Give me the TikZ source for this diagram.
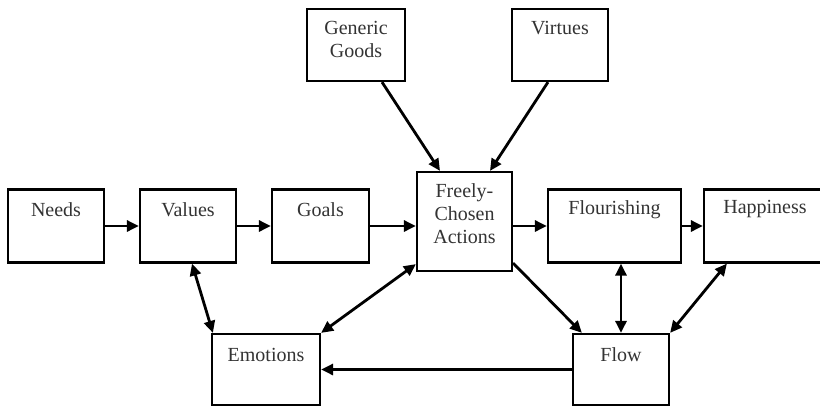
\documentclass[tikz,border=0pt]{standalone}
\usepackage{fontspec}
\setmainfont{Liberation Serif}
\usetikzlibrary{arrows.meta,calc}
\begin{document}
\begin{tikzpicture}[x=1pt,y=1pt,
  box/.style={draw, line width=2.2pt, rectangle, inner sep=0pt},
  lbl/.style={font=\fontsize{20}{23}\selectfont, align=center, text=black!80, inner sep=0pt},
  conn/.style={line width=2.8pt, -{Triangle[length=12pt,width=11pt]}},
  bconn/.style={line width=2.8pt, {Triangle[length=12pt,width=11pt]}-{Triangle[length=12pt,width=11pt]}}]
\useasboundingbox (0,0) rectangle (820,-407);
% boxes
\node[box, minimum width=96pt, minimum height=73pt] (needs) at (56,-226) {};
\node[box, minimum width=96pt, minimum height=73pt] (values) at (188,-226) {};
\node[box, minimum width=97pt, minimum height=73pt] (goals) at (320.5,-226) {};
\node[box, minimum width=95pt, minimum height=99pt] (freely) at (464.5,-221.5) {};
\node[box, minimum width=133pt, minimum height=73pt] (flour) at (614.5,-226) {};
\node[box, minimum width=122pt, minimum height=73pt] (happy) at (765,-226) {};
\node[box, minimum width=98pt, minimum height=72pt] (generic) at (356,-45) {};
\node[box, minimum width=96pt, minimum height=72pt] (virtues) at (560,-45) {};
\node[box, minimum width=108pt, minimum height=71pt] (emotions) at (266,-369.5) {};
\node[box, minimum width=96pt, minimum height=71pt] (flow) at (621,-369.5) {};
% labels
\node[lbl] (tneeds) at ($(needs.north)+(0,-21)$) {Needs};
\node[lbl] (tvalues) at ($(values.north)+(0,-21)$) {Values};
\node[lbl] (tgoals) at ($(goals.north)+(0,-21)$) {Goals};
\node[lbl] (tfreely) at ($(freely.north)+(0,-43)$) {Freely-\\Chosen\\Actions};
\node[lbl] (tflour) at ($(flour.north)+(0,-21)$) {Flourishing};
\node[lbl] (thappy) at ($(happy.north)+(0,-21)$) {Happiness};
\node[lbl] (tgeneric) at ($(generic.north)+(0,-32)$) {Generic\\Goods};
\node[lbl] (tvirtues) at ($(virtues.north)+(0,-20)$) {Virtues};
\node[lbl] (temotions) at ($(emotions.north)+(0,-22)$) {Emotions};
\node[lbl] (tflow) at ($(flow.north)+(0,-22)$) {Flow};
% connectors
\draw[conn] (needs.east) -- (values.west);
\draw[conn] (values.east) -- (goals.west);
\draw[conn] (goals.east) -- (goals.east -| freely.west);
\draw[conn] (freely.east |- flour.west) -- (flour.west);
\draw[conn] (flour.east) -- (happy.west);
\draw[conn] ($(generic.south)+(26,0)$) -- ($(freely.north)+(-24.5,0)$);
\draw[conn] ($(virtues.south)+(-12,0)$) -- ($(freely.north)+(25.5,0)$);
\draw[bconn] ($(values.south)+(4,0)$) -- ($(emotions.north west)+(2,0)$);
\draw[bconn] (emotions.north east) -- ($(freely.south west)+(0,8)$);
\draw[conn] ($(freely.south east)+(0,9)$) -- ($(flow.north west)+(10,0)$);
\draw[bconn] (flow.north) -- (flow.north |- flour.south);
\draw[bconn] ($(happy.south west)+(24,0)$) -- (flow.north east);
\draw[conn] (flow.west) -- (emotions.east);
\end{tikzpicture}
\end{document}
